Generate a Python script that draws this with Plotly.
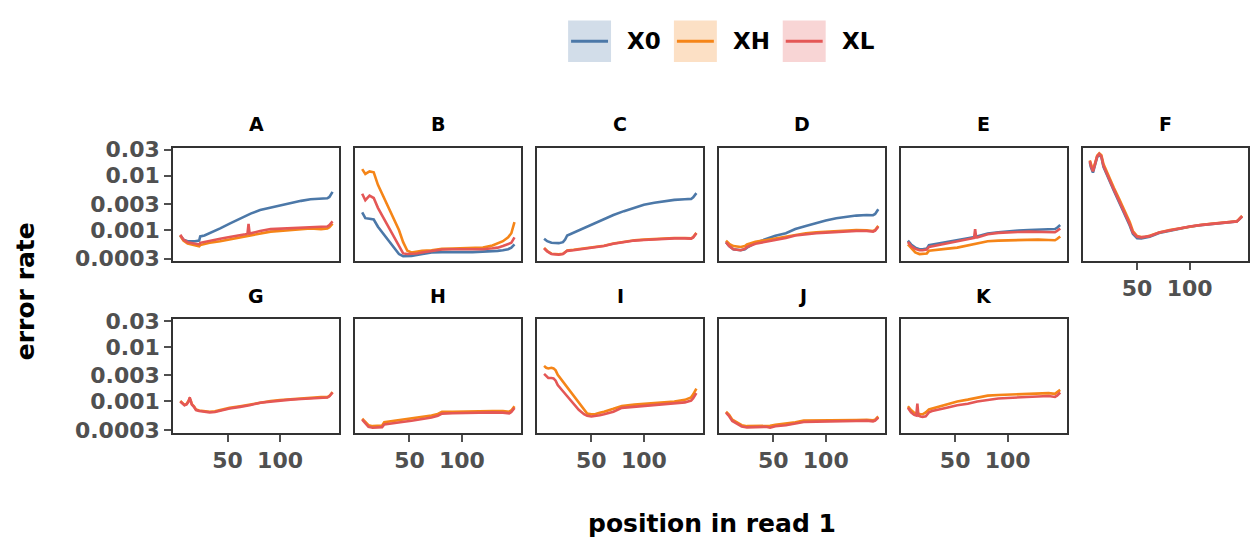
import plotly.graph_objects as go

# ---------------- data (error rate by position in read 1) ----------------
SERIES = ["X0", "XH", "XL"]
COLORS = {"X0": "#4c78a8", "XH": "#f58518", "XL": "#e45756"}
FILLS = {"X0": "rgba(76,120,168,0.25)", "XH": "rgba(245,133,24,0.25)", "XL": "rgba(228,87,86,0.25)"}
PANELS = ["A", "B", "C", "D", "E", "F", "G", "H", "I", "J", "K"]

A_pos = [5, 8, 12, 16, 19, 23, 24, 28, 33, 43, 52, 62, 67, 69, 70, 71, 72, 81, 91, 100, 110, 120, 129, 139, 145, 147, 150]
A_X0 = [0.00079, 0.000666, 0.000623, 0.000614, 0.000623, 0.00064, 0.000763, 0.000794, 0.000873, 0.00107, 0.00131, 0.00161, 0.00181, 0.00187, 0.00191, 0.00197, 0.0020, 0.00232, 0.00258, 0.00284, 0.00316, 0.00343, 0.00367, 0.00382, 0.00382, 0.00404, 0.00501]
A_XH = [0.000794, 0.00064, 0.000566, 0.000544, 0.000522, 0.000501, 0.000529, 0.000559, 0.000582, 0.000623, 0.000675, 0.000732, 0.000763, 0.000773, 0.000784, 0.000794, 0.000794, 0.000873, 0.000935, 0.00096, 0.000987, 0.00104, 0.00107, 0.00104, 0.00107, 0.00113, 0.00131]
A_XL = [0.000816, 0.000666, 0.000598, 0.000574, 0.000559, 0.000544, 0.000582, 0.000606, 0.00064, 0.000694, 0.000742, 0.000794, 0.000839, 0.000862, 0.00129, 0.000862, 0.000873, 0.00096, 0.00104, 0.00106, 0.00108, 0.00113, 0.00116, 0.00115, 0.00116, 0.00123, 0.00144]

B_pos = [5, 8, 12, 16, 20, 25, 30, 35, 40, 44, 48, 52, 57, 62, 71, 81, 91, 100, 110, 120, 129, 134, 139, 144, 147, 150]
B_X0 = [0.00211, 0.00165, 0.00161, 0.00156, 0.00115, 0.000862, 0.00064, 0.000475, 0.000362, 0.00033, 0.00033, 0.000334, 0.000348, 0.000362, 0.000388, 0.000393, 0.000398, 0.000393, 0.000393, 0.000398, 0.000409, 0.000415, 0.000426, 0.000444, 0.000475, 0.000544]
B_XH = [0.0131, 0.0107, 0.0119, 0.01145, 0.00675, 0.0042, 0.00258, 0.00161, 0.001, 0.000598, 0.000415, 0.000388, 0.000404, 0.000415, 0.000426, 0.00045, 0.000456, 0.000462, 0.000462, 0.000475, 0.000522, 0.000566, 0.000623, 0.000732, 0.000873, 0.0014]
B_XL = [0.00462, 0.00352, 0.00426, 0.00387, 0.00255, 0.00172, 0.00116, 0.000784, 0.000529, 0.000372, 0.000362, 0.000362, 0.000372, 0.000388, 0.000415, 0.000438, 0.000444, 0.000444, 0.000444, 0.000444, 0.000462, 0.000475, 0.000508, 0.000544, 0.000582, 0.000732]

C_pos = [5, 8, 12, 16, 19, 23, 25, 27, 33, 43, 52, 62, 71, 81, 91, 100, 110, 120, 129, 139, 145, 147, 150]
C_X0 = [0.000694, 0.000623, 0.000582, 0.000574, 0.000574, 0.000598, 0.000666, 0.000794, 0.000897, 0.00107, 0.00131, 0.00156, 0.00189, 0.00222, 0.00258, 0.00292, 0.00316, 0.00338, 0.00357, 0.00367, 0.00372, 0.00398, 0.00475]
C_XH = [0.00047, 0.000412, 0.000368, 0.000358, 0.00036, 0.000368, 0.000395, 0.000422, 0.000434, 0.000458, 0.000484, 0.000516, 0.000566, 0.000614, 0.000648, 0.000666, 0.000684, 0.000702, 0.000712, 0.000714, 0.000704, 0.000742, 0.000885]
C_XL = [0.000462, 0.000404, 0.000362, 0.000352, 0.000352, 0.000362, 0.000388, 0.000415, 0.000426, 0.00045, 0.000475, 0.000508, 0.000559, 0.000606, 0.00064, 0.000657, 0.000675, 0.000694, 0.000703, 0.000703, 0.000694, 0.000732, 0.000873]

D_pos = [5, 8, 12, 16, 19, 23, 25, 33, 43, 52, 62, 71, 81, 91, 100, 110, 120, 129, 139, 145, 147, 150]
D_X0 = [0.000598, 0.000508, 0.000444, 0.000426, 0.000426, 0.000444, 0.000475, 0.000582, 0.000684, 0.000784, 0.000873, 0.00104, 0.00119, 0.00135, 0.0015, 0.00165, 0.00177, 0.00184, 0.00189, 0.00187, 0.00197, 0.00241]
D_XH = [0.00064, 0.000559, 0.000508, 0.000488, 0.000488, 0.000508, 0.000544, 0.000606, 0.000657, 0.000713, 0.000752, 0.000816, 0.000873, 0.00091, 0.000935, 0.00096, 0.000987, 0.001, 0.000987, 0.00096, 0.001, 0.00119]
D_XL = [0.000598, 0.000508, 0.000444, 0.000426, 0.000426, 0.00045, 0.000488, 0.000559, 0.000606, 0.000666, 0.000713, 0.000794, 0.000839, 0.000873, 0.000897, 0.000922, 0.000947, 0.00096, 0.00096, 0.000935, 0.000973, 0.00115]

E_pos = [5, 8, 12, 16, 19, 23, 25, 33, 43, 52, 62, 67, 68, 69, 70, 71, 81, 91, 100, 110, 120, 129, 139, 145, 147, 150]
E_X0 = [0.00064, 0.000544, 0.000475, 0.000444, 0.000444, 0.000456, 0.000529, 0.000559, 0.000606, 0.000648, 0.000703, 0.000732, 0.000742, 0.000752, 0.000763, 0.000763, 0.000862, 0.00091, 0.000947, 0.000973, 0.001, 0.00101, 0.00103, 0.00104, 0.0011, 0.00123]
E_XH = [0.000544, 0.000462, 0.000388, 0.000362, 0.000362, 0.000372, 0.000415, 0.000438, 0.000456, 0.000475, 0.000522, 0.000544, 0.000551, 0.000551, 0.000559, 0.000559, 0.000623, 0.00064, 0.000648, 0.000657, 0.000657, 0.000666, 0.000657, 0.000648, 0.000684, 0.000763]
E_XL = [0.000606, 0.000508, 0.00045, 0.000426, 0.000426, 0.000438, 0.000488, 0.000522, 0.000566, 0.000623, 0.000675, 0.000703, 0.000713, 0.00104, 0.000732, 0.000732, 0.000839, 0.000885, 0.00091, 0.000922, 0.000935, 0.000922, 0.00091, 0.00091, 0.00096, 0.00107]

F_pos = [5, 6, 8, 10, 12, 14, 16, 18, 23, 28, 33, 38, 43, 46, 50, 54, 58, 62, 71, 81, 91, 100, 110, 120, 129, 139, 145, 147, 150]
F_X0 = [0.0175, 0.0142, 0.0113, 0.0154, 0.0218, 0.0242, 0.0218, 0.0144, 0.0084, 0.0052, 0.00322, 0.002, 0.00121, 0.00085, 0.00071, 0.0007, 0.000715, 0.00075, 0.00088, 0.000975, 0.00106, 0.00115, 0.00122, 0.00128, 0.00134, 0.00139, 0.00143, 0.00155, 0.00177]
F_XH = [0.019, 0.0158, 0.0125, 0.0168, 0.0232, 0.0255, 0.0236, 0.0162, 0.0095, 0.0059, 0.00368, 0.00232, 0.0014, 0.00096, 0.000775, 0.000745, 0.000752, 0.000785, 0.000905, 0.000995, 0.00108, 0.00117, 0.00124, 0.0013, 0.00136, 0.00141, 0.00145, 0.00158, 0.00182]
F_XL = [0.0184, 0.015, 0.0119, 0.0161, 0.0225, 0.0248, 0.0225, 0.015, 0.00873, 0.00544, 0.00338, 0.00211, 0.00128, 0.000897, 0.000752, 0.000732, 0.000742, 0.000773, 0.000897, 0.000987, 0.00107, 0.00116, 0.00123, 0.00129, 0.00135, 0.0014, 0.00144, 0.00156, 0.00179]

G_pos = [5, 7, 9, 11, 13, 14, 15, 16, 18, 20, 23, 28, 33, 38, 43, 52, 62, 71, 81, 91, 100, 110, 120, 129, 139, 145, 147, 150]
G_XH = [0.00102, 0.00095, 0.000865, 0.0009, 0.00101, 0.00112, 0.00104, 0.00089, 0.00081, 0.00071, 0.00068, 0.000662, 0.000648, 0.000658, 0.000694, 0.000762, 0.000815, 0.00087, 0.000965, 0.00102, 0.00106, 0.0011, 0.00113, 0.00115, 0.0012, 0.0012, 0.00126, 0.00148]
G_XL = [0.001, 0.000935, 0.00085, 0.000885, 0.001, 0.00119, 0.00104, 0.000873, 0.000794, 0.000694, 0.000666, 0.000648, 0.000631, 0.00064, 0.000675, 0.000742, 0.000794, 0.00085, 0.000947, 0.001, 0.00104, 0.00108, 0.00111, 0.00113, 0.00118, 0.00118, 0.00124, 0.00146]

H_pos = [5, 8, 11, 15, 19, 24, 26, 33, 43, 52, 62, 71, 77, 81, 91, 100, 110, 120, 129, 139, 145, 147, 150]
H_XH = [0.000481, 0.000415, 0.000367, 0.000352, 0.000352, 0.000362, 0.000415, 0.000432, 0.000456, 0.000481, 0.000515, 0.000551, 0.00059, 0.000648, 0.000648, 0.000657, 0.000666, 0.000675, 0.000666, 0.000666, 0.000648, 0.000684, 0.000816]
H_XL = [0.000462, 0.000388, 0.000343, 0.00033, 0.00033, 0.000338, 0.000377, 0.000398, 0.00042, 0.000444, 0.000475, 0.000508, 0.000544, 0.000598, 0.000606, 0.000614, 0.000631, 0.000631, 0.000631, 0.000623, 0.000606, 0.00064, 0.000763]

I_pos = [5, 7, 9, 12, 14, 16, 18, 23, 28, 33, 38, 43, 46, 50, 54, 58, 62, 71, 79, 91, 100, 110, 120, 129, 139, 145, 147, 150]
I_XH = [0.0045, 0.00415, 0.00404, 0.00415, 0.00404, 0.00372, 0.00308, 0.00229, 0.00172, 0.00128, 0.000947, 0.000694, 0.000598, 0.000582, 0.00059, 0.000623, 0.000648, 0.000732, 0.000827, 0.000873, 0.000897, 0.000922, 0.00096, 0.001, 0.00107, 0.00119, 0.00135, 0.00172]
I_XL = [0.0032, 0.00288, 0.00269, 0.00269, 0.00265, 0.00241, 0.002, 0.00154, 0.00119, 0.00091, 0.000703, 0.000582, 0.000544, 0.000529, 0.000536, 0.000559, 0.000582, 0.000648, 0.000763, 0.000794, 0.000827, 0.00085, 0.000885, 0.000922, 0.00096, 0.00104, 0.00115, 0.00142]

J_pos = [5, 8, 11, 14, 17, 20, 25, 33, 43, 47, 52, 62, 71, 79, 91, 100, 110, 120, 129, 139, 145, 147, 150]
J_XH = [0.000648, 0.000566, 0.000462, 0.000432, 0.000398, 0.000367, 0.000352, 0.000352, 0.000362, 0.000357, 0.000372, 0.000388, 0.000415, 0.000444, 0.000444, 0.00045, 0.00045, 0.000456, 0.000456, 0.000462, 0.00045, 0.000462, 0.000529]
J_XL = [0.000623, 0.000536, 0.000438, 0.000409, 0.000377, 0.000348, 0.000334, 0.000334, 0.000343, 0.00033, 0.000352, 0.000367, 0.000393, 0.00042, 0.000426, 0.000432, 0.000432, 0.000438, 0.000438, 0.000444, 0.000432, 0.000444, 0.000508]

K_pos = [5, 8, 11, 13, 14, 15, 17, 19, 22, 25, 28, 33, 43, 52, 62, 71, 81, 91, 100, 110, 120, 129, 139, 145, 147, 150]
K_XH = [0.000816, 0.000694, 0.000623, 0.000606, 0.000606, 0.000598, 0.000582, 0.000582, 0.000631, 0.000713, 0.000742, 0.000794, 0.00091, 0.001, 0.00108, 0.00118, 0.00128, 0.00131, 0.00133, 0.00137, 0.00138, 0.0014, 0.00142, 0.00138, 0.00146, 0.00163]
K_XL = [0.000763, 0.000631, 0.000566, 0.000551, 0.00091, 0.000551, 0.000529, 0.000522, 0.000536, 0.000631, 0.000666, 0.000694, 0.000773, 0.00085, 0.00091, 0.001, 0.00108, 0.00113, 0.00116, 0.00119, 0.00121, 0.00124, 0.00126, 0.00121, 0.00128, 0.00146]

Y_TICKS = [0.0003, 0.001, 0.003, 0.01, 0.03]
Y_TICK_TEXT = ["0.0003", "0.001", "0.003", "0.01", "0.03"]
X_TICKS = [50, 100]

DATA = {
    "A": (A_pos, {"X0": A_X0, "XH": A_XH, "XL": A_XL}),
    "B": (B_pos, {"X0": B_X0, "XH": B_XH, "XL": B_XL}),
    "C": (C_pos, {"X0": C_X0, "XH": C_XH, "XL": C_XL}),
    "D": (D_pos, {"X0": D_X0, "XH": D_XH, "XL": D_XL}),
    "E": (E_pos, {"X0": E_X0, "XH": E_XH, "XL": E_XL}),
    "F": (F_pos, {"X0": F_X0, "XH": F_XH, "XL": F_XL}),
    "G": (G_pos, {"XH": G_XH, "XL": G_XL}),
    "H": (H_pos, {"XH": H_XH, "XL": H_XL}),
    "I": (I_pos, {"XH": I_XH, "XL": I_XL}),
    "J": (J_pos, {"XH": J_XH, "XL": J_XL}),
    "K": (K_pos, {"XH": K_XH, "XL": K_XL}),
}

# ---------------- layout geometry (pixels) ----------------
W, H = 1250, 542
COL_LEFT = [173.5, 355.7, 537.9, 720.1, 902.3, 1084.5]
PANEL_W = 166.5
ROW_TOP = [143.0, 321.0]
PANEL_H = 117.7
FONT = "DejaVu Sans"
TICK_COLOR = "#505050"
FRAME = "#333333"


def px_x(x):
    return x / W


def px_y(y):
    return 1 - y / H


fig = go.Figure()
layout = {}
annotations = []
shapes = []

for i, name in enumerate(PANELS):
    row, col = divmod(i, 6)
    left = COL_LEFT[col]
    right = min(left + PANEL_W, W)
    top = ROW_TOP[row]
    bottom = top + PANEL_H
    ax = "" if i == 0 else str(i + 1)
    xref, yref = "x" + ax, "y" + ax

    pos, series = DATA[name]
    for s in SERIES:
        if s in series:
            fig.add_trace(go.Scatter(
                x=pos, y=series[s], mode="lines", name=s, showlegend=False,
                line=dict(color=COLORS[s], width=2.6), xaxis=xref, yaxis=yref,
                hoverinfo="skip"))

    show_xt = (row == 1) or (col == 5)
    show_yt = (col == 0)
    px_per = 1.052
    x0 = 50 - 54.4 / px_per
    x1 = 50 + (right - left - 54.4) / px_per
    layout["xaxis" + ax] = dict(
        domain=[px_x(left), px_x(right)], range=[x0, x1], anchor=yref,
        showline=True, linecolor=FRAME, linewidth=2, mirror=True,
        showgrid=False, zeroline=False,
        tickmode="array", tickvals=X_TICKS,
        ticks="outside" if show_xt else "", ticklen=7, tickwidth=1.5, tickcolor=TICK_COLOR,
        showticklabels=show_xt,
        tickfont=dict(family=FONT, size=22, color=TICK_COLOR, weight="bold"),
    )
    layout["yaxis" + ax] = dict(
        domain=[px_y(bottom), px_y(top)], type="log", range=[-3.57, -1.49], anchor=xref,
        showline=True, linecolor=FRAME, linewidth=2, mirror=True,
        showgrid=False, zeroline=False,
        tickmode="array", tickvals=Y_TICKS, ticktext=Y_TICK_TEXT,
        ticks="outside" if show_yt else "", ticklen=7, tickwidth=1.5, tickcolor=TICK_COLOR,
        showticklabels=show_yt,
        tickfont=dict(family=FONT, size=22, color=TICK_COLOR, weight="bold"),
    )
    annotations.append(dict(
        text=name, x=px_x((left + left + PANEL_W) / 2), y=px_y(top - 11),
        xref="paper", yref="paper", xanchor="center", yanchor="bottom", showarrow=False,
        font=dict(family=FONT, size=19, color="#000000", weight="bold")))

# axis titles
annotations.append(dict(
    text="error rate", x=px_x(25), y=px_y(292), xref="paper", yref="paper",
    textangle=-90, showarrow=False, xanchor="center", yanchor="middle",
    font=dict(family=FONT, size=25, color="#000000", weight="bold")))
annotations.append(dict(
    text="position in read 1", x=px_x(713), y=px_y(533), xref="paper", yref="paper",
    showarrow=False, xanchor="center", yanchor="middle",
    font=dict(family=FONT, size=25, color="#000000", weight="bold")))

# legend (manual, top center)
LEG_BOX_LEFT = [569, 675, 784]
LEG_TEXT_LEFT = [626, 732, 841]
for k, s in enumerate(SERIES):
    bx = LEG_BOX_LEFT[k]
    shapes.append(dict(type="rect", xref="paper", yref="paper",
                       x0=px_x(bx), x1=px_x(bx + 43), y0=px_y(54), y1=px_y(11),
                       fillcolor=FILLS[s], line=dict(width=0)))
    shapes.append(dict(type="line", xref="paper", yref="paper",
                       x0=px_x(bx + 3), x1=px_x(bx + 40), y0=px_y(32.5), y1=px_y(32.5),
                       line=dict(color=COLORS[s], width=3)))
    annotations.append(dict(
        text=s, x=px_x(LEG_TEXT_LEFT[k]), y=px_y(32.5), xref="paper", yref="paper",
        showarrow=False, xanchor="left", yanchor="middle",
        font=dict(family=FONT, size=23, color="#000000", weight="bold")))

fig.update_layout(
    width=W, height=H, margin=dict(l=0, r=0, t=0, b=0),
    paper_bgcolor="white", plot_bgcolor="white", showlegend=False,
    annotations=annotations, shapes=shapes, **layout)

fig.write_html("out.html")
